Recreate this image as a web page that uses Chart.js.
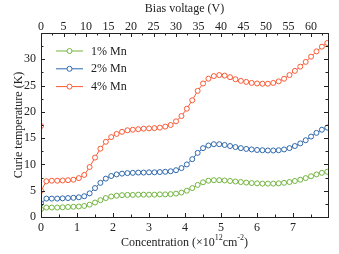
<!DOCTYPE html>
<html>
<head>
<meta charset="utf-8">
<script src="https://cdn.jsdelivr.net/npm/chart.js@4/dist/chart.umd.min.js"></script>
<style>
  html, body { margin: 0; padding: 0; background: #fff; }
  canvas { display: block; }
</style>
</head>
<body>
<canvas id="curieChart" width="339" height="254"></canvas>
<script>
// --- data ---
const conc = [0, 0.15, 0.3, 0.45, 0.6, 0.75, 0.9, 1.05, 1.2, 1.35, 1.5, 1.65, 1.8, 1.95,
  2.1, 2.25, 2.4, 2.55, 2.7, 2.85, 3.0, 3.15, 3.3, 3.45, 3.6, 3.75, 3.9, 4.05, 4.2, 4.35,
  4.5, 4.65, 4.8, 4.95, 5.1, 5.25, 5.4, 5.55, 5.7, 5.85, 6.0, 6.15, 6.3, 6.45, 6.6, 6.75,
  6.9, 7.05, 7.2, 7.35, 7.5, 7.65, 7.8, 7.95];

// the 4% curve has an extra point at x = 0
const concMn4 = [0].concat(conc);

const mn1 = [1.5, 1.8, 1.8, 1.8, 1.85, 1.9, 1.95, 2.0, 2.1, 2.35, 2.75, 3.2, 3.6, 3.9,
  4.05, 4.15, 4.2, 4.2, 4.25, 4.25, 4.25, 4.25, 4.3, 4.3, 4.35, 4.45, 4.65, 5.0, 5.5, 6.1,
  6.6, 6.9, 7.0, 7.0, 6.95, 6.85, 6.75, 6.65, 6.55, 6.45, 6.4, 6.35, 6.35, 6.35, 6.4, 6.5,
  6.65, 6.85, 7.1, 7.4, 7.75, 8.1, 8.4, 8.6];

const mn2 = [2.6, 3.5, 3.5, 3.5, 3.55, 3.6, 3.65, 3.75, 3.95, 4.5, 5.5, 6.5, 7.3, 7.8,
  8.1, 8.25, 8.35, 8.4, 8.45, 8.45, 8.5, 8.5, 8.55, 8.6, 8.7, 8.9, 9.3, 10.0, 11.0, 12.2,
  13.1, 13.6, 13.85, 13.85, 13.7, 13.5, 13.3, 13.1, 12.95, 12.85, 12.75, 12.7, 12.65, 12.65, 12.7, 12.85,
  13.1, 13.5, 14.0, 14.6, 15.3, 16.0, 16.6, 17.0];

const mn4 = [17.3, 5.0, 6.8, 6.9, 6.9, 6.95, 7.0, 7.1, 7.4, 8.0, 9.5, 11.3, 13.0, 14.3, 15.2,
  15.8, 16.2, 16.5, 16.6, 16.7, 16.8, 16.85, 16.9, 17.0, 17.2, 17.5, 18.2, 19.2, 20.6, 22.2, 24.0,
  25.4, 26.3, 26.8, 27.0, 26.9, 26.6, 26.2, 25.9, 25.7, 25.5, 25.4, 25.35, 25.35, 25.5, 25.8, 26.3,
  27.0, 27.8, 28.6, 29.5, 30.5, 31.5, 32.4, 33.1];

const seriesLabels = ["1% Mn", "2% Mn", "4% Mn"];
const seriesColors = ["#72b53f", "#2e68ab", "#fb5a34"];

const concMax = 7.97;
const voltsPerConc = 8;
const yMax = 35;

const FONT = '"Liberation Serif", "Times New Roman", serif';
const INK = "#222";

function toPoints(xs, ys) {
  return ys.map((y, i) => ({ x: xs[i], y: y }));
}

function makeSet(label, color, xs, ys) {
  return {
    label: label,
    data: toPoints(xs, ys),
    borderColor: color,
    backgroundColor: "#fff",
    borderWidth: 1,
    pointRadius: 2.5,
    pointBorderWidth: 1,
    pointBackgroundColor: "#fff",
    pointBorderColor: color,
    tension: 0,
    xAxisID: "x",
    yAxisID: "y",
  };
}

// box, inward ticks, legend and axis titles
const framePlugin = {
  id: "frame",
  afterDraw(chart) {
    const ctx = chart.ctx;
    const a = chart.chartArea;
    const sx = chart.scales.x;
    const st = chart.scales.xTop;
    const sy = chart.scales.y;
    ctx.save();
    ctx.strokeStyle = INK;
    ctx.lineWidth = 1;

    // ticks
    ctx.beginPath();
    for (let v = 0; v <= concMax + 1e-6; v += 0.5) {
      const px = Math.round(sx.getPixelForValue(v)) + 0.5;
      const len = (Math.abs(v - Math.round(v)) < 1e-6) ? 4 : 2.5;
      ctx.moveTo(px, a.bottom);
      ctx.lineTo(px, a.bottom - len);
    }
    for (let v = 0; v <= concMax * voltsPerConc + 1e-6; v += 2.5) {
      const px = Math.round(st.getPixelForValue(v)) + 0.5;
      const len = (v % 5 === 0) ? 4 : 2.5;
      ctx.moveTo(px, a.top);
      ctx.lineTo(px, a.top + len);
    }
    for (let v = 0; v <= yMax; v += 2.5) {
      const py = Math.round(sy.getPixelForValue(v)) + 0.5;
      const len = (v % 5 === 0) ? 4 : 2.5;
      ctx.moveTo(a.left, py);
      ctx.lineTo(a.left + len, py);
      ctx.moveTo(a.right, py);
      ctx.lineTo(a.right - len, py);
    }
    ctx.stroke();

    // box
    ctx.strokeRect(Math.round(a.left) + 0.5, Math.round(a.top) + 0.5,
      Math.round(a.right - a.left), Math.round(a.bottom - a.top));

    // legend
    ctx.font = "12px " + FONT;
    ctx.textBaseline = "middle";
    ctx.textAlign = "left";
    chart.data.datasets.forEach((ds, i) => {
      const yy = 51 + i * 17.8;
      ctx.strokeStyle = ds.borderColor;
      ctx.beginPath();
      ctx.moveTo(56, yy);
      ctx.lineTo(83, yy);
      ctx.stroke();
      ctx.beginPath();
      ctx.fillStyle = "#fff";
      ctx.arc(69.5, yy, 2.5, 0, Math.PI * 2);
      ctx.fill();
      ctx.stroke();
      ctx.fillStyle = INK;
      ctx.fillText(ds.label, 91, yy + 0.5);
    });

    // titles
    ctx.fillStyle = INK;
    ctx.textAlign = "center";
    ctx.fillText("Bias voltage (V)", (a.left + a.right) / 2, 9);

    ctx.save();
    ctx.translate(19, (a.top + a.bottom) / 2);
    ctx.rotate(-Math.PI / 2);
    ctx.fillText("Curie temperature (K)", 0, 0);
    ctx.restore();

    // bottom title with superscripts
    const parts = [
      ["Concentration (\u00d710", false],
      ["12", true],
      ["cm", false],
      ["-2", true],
      [")", false],
    ];
    const big = "12px " + FONT;
    const small = "8px " + FONT;
    let total = 0;
    parts.forEach(p => {
      ctx.font = p[1] ? small : big;
      total += ctx.measureText(p[0]).width;
    });
    let cx = (a.left + a.right) / 2 - total / 2;
    const by = 243;
    ctx.textAlign = "left";
    parts.forEach(p => {
      ctx.font = p[1] ? small : big;
      ctx.fillText(p[0], cx, p[1] ? by - 5 : by);
      cx += ctx.measureText(p[0]).width;
    });
    ctx.restore();
  },
};

const chart = new Chart(document.getElementById("curieChart").getContext("2d"), {
  type: "line",
  data: {
    datasets: [
      makeSet(seriesLabels[0], seriesColors[0], conc, mn1),
      makeSet(seriesLabels[1], seriesColors[1], conc, mn2),
      makeSet(seriesLabels[2], seriesColors[2], concMn4, mn4),
    ],
  },
  options: {
    responsive: false,
    animation: false,
    devicePixelRatio: 1,
    layout: { padding: { left: 0, right: 11, top: 0, bottom: 0 } },
    plugins: {
      legend: { display: false },
      tooltip: { enabled: false },
    },
    scales: {
      x: {
        type: "linear",
        position: "bottom",
        min: 0,
        max: concMax,
        grid: { display: false, drawTicks: false },
        border: { display: false },
        ticks: {
          stepSize: 1,
          includeBounds: false,
          padding: 4,
          maxRotation: 0,
          color: INK,
          font: { family: FONT, size: 12 },
        },
        afterFit(s) { s.height = 37; },
      },
      xTop: {
        type: "linear",
        position: "top",
        min: 0,
        max: concMax * voltsPerConc,
        grid: { display: false, drawTicks: false },
        border: { display: false },
        ticks: {
          stepSize: 5,
          includeBounds: false,
          padding: -1,
          maxRotation: 0,
          autoSkip: false,
          color: INK,
          font: { family: FONT, size: 12 },
        },
        afterFit(s) { s.height = 33; },
      },
      y: {
        type: "linear",
        min: 0,
        max: yMax,
        grid: { display: false, drawTicks: false },
        border: { display: false },
        ticks: {
          stepSize: 5,
          padding: 5,
          color: INK,
          font: { family: FONT, size: 12 },
          callback: (v) => (v >= yMax ? "" : v),
        },
        afterFit(s) { s.width = 41; },
      },
    },
  },
  plugins: [framePlugin],
});
</script>
</body>
</html>
